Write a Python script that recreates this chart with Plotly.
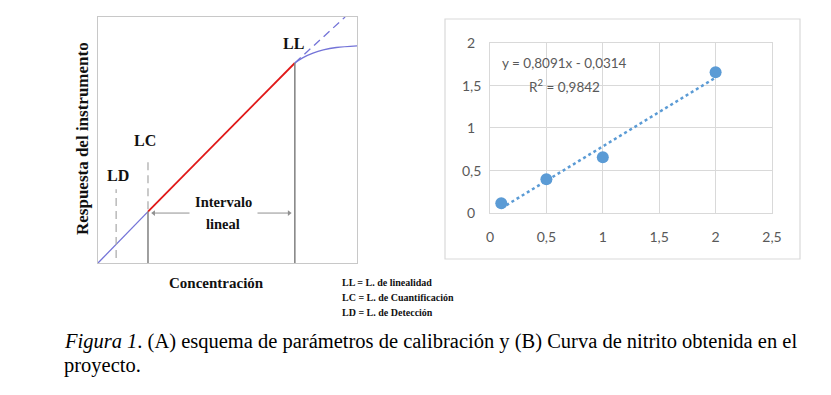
import plotly.graph_objects as go

# ---------------- Data ----------------
# Panel A (schematic, arbitrary units 0-100)
lower_x = [0, 19.3]
lower_y = [0, 20.9]
linear_x = [19.3, 76]
linear_y = [20.9, 81.3]
extrap_x = [76, 95.4]
extrap_y = [81.3, 100]
sat_x = [76, 79, 83, 87, 92, 100]
sat_y = [81.3, 83.4, 85.3, 86.6, 87.6, 88.3]
ld_x = 7.0
lc_x = 19.3
ll_x = 76.0
interval_x = [21.5, 73.8]
interval_y = 20.3
legend_lines = ["LL = L. de linealidad", "LC = L. de Cuantificación", "LD = L. de Detección"]

# Panel B (nitrite calibration curve)
conc = [0.1, 0.5, 1.0, 2.0]
resp = [0.11, 0.39, 0.65, 1.65]
slope = 0.8091
intercept = -0.0314
trend_x = [0.1, 2.0]
trend_y = [slope * v + intercept for v in trend_x]
x_ticks = [0, 0.5, 1, 1.5, 2, 2.5]
x_ticktext = ["0", "0,5", "1", "1,5", "2", "2,5"]
y_ticks = [0, 0.5, 1, 1.5, 2]
y_ticktext = ["0", "0,5", "1", "1,5", "2"]

W, H = 831, 395
OFF = 8  # page body margin of the html page
def px(x):
    return (x - OFF) / W
def py(y):
    return 1 - (y - OFF) / H

BLUE = "#7474d8"
serif = "Liberation Serif"
GRAYTXT = "#595959"

fig = go.Figure()

# ---- Panel A traces ----
fig.add_trace(go.Scatter(x=lower_x, y=lower_y, mode="lines",
                         line=dict(color=BLUE, width=1.3), xaxis="x", yaxis="y"))
fig.add_trace(go.Scatter(x=linear_x, y=linear_y, mode="lines",
                         line=dict(color="#e01818", width=1.8), xaxis="x", yaxis="y"))
fig.add_trace(go.Scatter(x=extrap_x, y=extrap_y, mode="lines",
                         line=dict(color=BLUE, width=1.3, dash="8px,5px"), xaxis="x", yaxis="y"))
fig.add_trace(go.Scatter(x=sat_x, y=sat_y, mode="lines", line_shape="spline",
                         line=dict(color=BLUE, width=1.3), xaxis="x", yaxis="y"))
# vertical markers
fig.add_trace(go.Scatter(x=[ld_x, ld_x], y=[2, 30], mode="lines",
                         line=dict(color="#a8a8a8", width=1.2, dash="8px,5px"), xaxis="x", yaxis="y"))
fig.add_trace(go.Scatter(x=[lc_x, lc_x], y=[lower_y[1] + 1, 42], mode="lines",
                         line=dict(color="#a8a8a8", width=1.2, dash="8px,5px"), xaxis="x", yaxis="y"))
fig.add_trace(go.Scatter(x=[lc_x, lc_x], y=[0, lower_y[1]], mode="lines",
                         line=dict(color="#808080", width=1.5), xaxis="x", yaxis="y"))
fig.add_trace(go.Scatter(x=[ll_x, ll_x], y=[0, linear_y[1]], mode="lines",
                         line=dict(color="#808080", width=1.5), xaxis="x", yaxis="y"))
# interval double arrow
fig.add_trace(go.Scatter(x=interval_x, y=[interval_y, interval_y], mode="lines+markers",
                         line=dict(color="#909090", width=1),
                         marker=dict(symbol=["triangle-left", "triangle-right"], size=5, color="#909090"),
                         xaxis="x", yaxis="y"))

# ---- Panel B traces ----
fig.add_trace(go.Scatter(x=trend_x, y=trend_y, mode="lines",
                         line=dict(color="#5B9BD5", width=2.5, dash="dot"), xaxis="x2", yaxis="y2"))
fig.add_trace(go.Scatter(x=conc, y=resp, mode="markers",
                         marker=dict(color="#5B9BD5", size=12), xaxis="x2", yaxis="y2"))

annotations = []
annotations.append(dict(x=48.3, y=24.6, xref="x", yref="y", text="<b>Intervalo</b>", showarrow=False,
                        font=dict(family=serif, size=14.5, color="#111"), bgcolor="white", borderpad=5))
annotations.append(dict(x=48.3, y=16.0, xref="x", yref="y", text="<b>lineal</b>", showarrow=False,
                        font=dict(family=serif, size=14.5, color="#111")))
for t, x, y in [("LL", 75.3, 89.4), ("LC", 18.1, 50.0), ("LD", 7.7, 35.4)]:
    annotations.append(dict(x=x, y=y, xref="x", yref="y", text="<b>%s</b>" % t, showarrow=False,
                            font=dict(family=serif, size=16, color="#111")))
annotations.append(dict(x=px(82), y=py(139), xref="paper", yref="paper", textangle=-90,
                        xanchor="center", yanchor="middle",
                        text="<b>Respuesta del instrumento</b>", showarrow=False,
                        font=dict(family=serif, size=17, color="#111")))
annotations.append(dict(x=px(216), y=py(283), xref="paper", yref="paper",
                        xanchor="center", yanchor="middle",
                        text="<b>Concentración</b>", showarrow=False,
                        font=dict(family=serif, size=15, color="#111")))
for i, t in enumerate(legend_lines):
    annotations.append(dict(x=px(340), y=py(282 + 15 * i), xref="paper", yref="paper",
                            xanchor="left", yanchor="middle",
                            text="<b>%s</b>" % t, showarrow=False,
                            font=dict(family=serif, size=10, color="#111")))
# y tick labels of panel B (centred, Excel style)
for v, t in zip(y_ticks, y_ticktext):
    annotations.append(dict(x=px(471), y=v, xref="paper", yref="y2", xanchor="center", yanchor="middle",
                            text=t, showarrow=False, font=dict(family="Lato", size=14, color=GRAYTXT)))
# equation
annotations.append(dict(x=0.09, y=1.755, xref="x2", yref="y2", xanchor="left", yanchor="middle",
                        text="y = 0,8091x - 0,0314", showarrow=False,
                        font=dict(family="Lato", size=13.5, color=GRAYTXT)))
annotations.append(dict(x=0.33, y=1.49, xref="x2", yref="y2", xanchor="left", yanchor="middle",
                        text="R<sup>2</sup> = 0,9842", showarrow=False,
                        font=dict(family="Lato", size=13.5, color=GRAYTXT)))
# caption
annotations.append(dict(x=px(62), y=py(341), xref="paper", yref="paper", xanchor="left", yanchor="middle",
                        text="<i>Figura 1</i>. (A) esquema de parámetros de calibración y (B) Curva de nitrito obtenida en el",
                        showarrow=False, font=dict(family=serif, size=20.5, color="#000")))
annotations.append(dict(x=px(62), y=py(365), xref="paper", yref="paper", xanchor="left", yanchor="middle",
                        text="proyecto.", showarrow=False, font=dict(family=serif, size=20.5, color="#000")))

shapes = [dict(type="rect", xref="paper", yref="paper", x0=px(445), x1=px(800), y0=py(259), y1=py(19),
               line=dict(color="#d9d9d9", width=1.2), layer="below")]

fig.update_layout(
    template="none",
    width=W, height=H, margin=dict(l=0, r=0, t=0, b=0, pad=0),
    paper_bgcolor="white", plot_bgcolor="white", showlegend=False,
    annotations=annotations, shapes=shapes,
    xaxis=dict(domain=[px(98), px(357)], range=[0, 100], showgrid=False, zeroline=False, automargin=False,
               showticklabels=False, ticks="", showline=True, mirror=True, linecolor="#c8c8c8", linewidth=1.2),
    yaxis=dict(domain=[py(263), py(17)], range=[0, 100], showgrid=False, zeroline=False, automargin=False,
               showticklabels=False, ticks="", showline=True, mirror=True, linecolor="#c8c8c8", linewidth=1.2),
    xaxis2=dict(domain=[px(490), px(772)], range=[0, 2.5], tickvals=x_ticks, ticktext=x_ticktext,
                showgrid=True, gridcolor="#d9d9d9", gridwidth=1.2, zeroline=False, automargin=False,
                showline=True, mirror=True, linecolor="#d9d9d9", linewidth=1.2,
                ticks="", ticklabelstandoff=12, tickfont=dict(family="Lato", size=14, color=GRAYTXT),
                anchor="y2"),
    yaxis2=dict(domain=[py(212.5), py(42.5)], range=[0, 2], tickvals=y_ticks,
                showticklabels=False,
                showgrid=True, gridcolor="#d9d9d9", gridwidth=1.2, zeroline=False, automargin=False,
                showline=True, mirror=True, linecolor="#d9d9d9", linewidth=1.2,
                ticks="", anchor="x2"),
)

fig.write_html("out.html")
